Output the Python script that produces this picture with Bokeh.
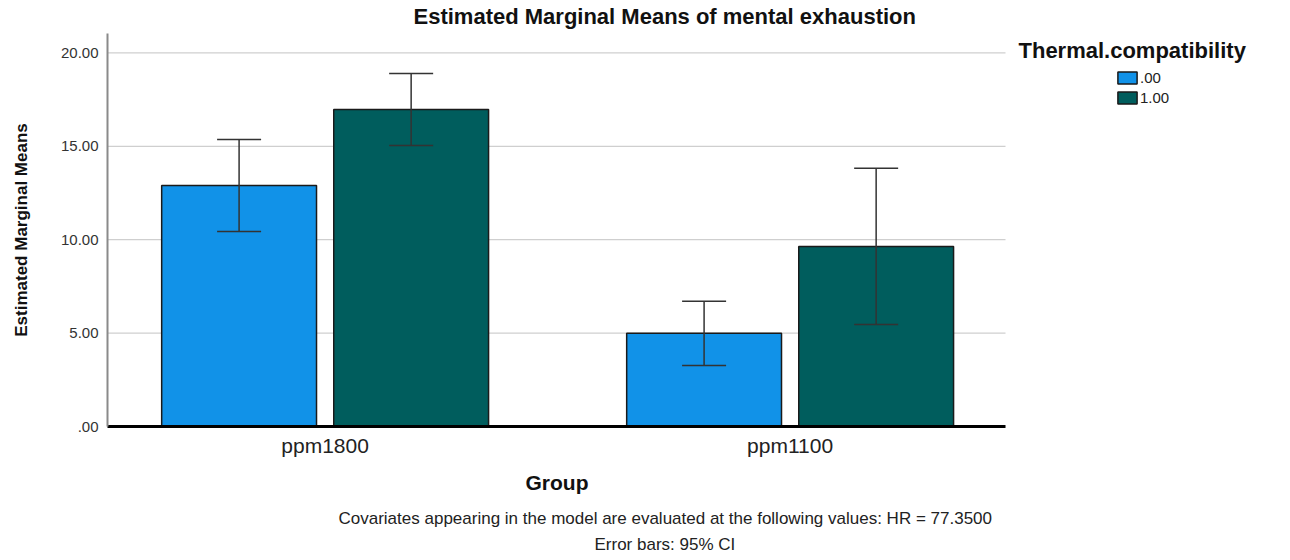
from bokeh.plotting import figure
from bokeh.models import (Range1d, FixedTicker, Whisker, TeeHead, Label, Title,
                          ColumnDataSource, Legend, LegendItem)
from bokeh.embed import file_html
from bokeh.resources import INLINE

# ---- data ----
groups = ["ppm1800", "ppm1100"]
levels = [".00", "1.00"]
means_00 = [12.90, 4.99]
lower_00 = [10.44, 3.27]
upper_00 = [15.36, 6.71]
means_100 = [16.97, 9.64]
lower_100 = [15.04, 5.46]
upper_100 = [18.90, 13.83]
y_ticks = [0, 5, 10, 15, 20]
y_tick_labels = [".00", "5.00", "10.00", "15.00", "20.00"]
colors = ["#1192e8", "#005d5d"]

title_text = "Estimated Marginal Means of mental exhaustion"
legend_title = "Thermal.compatibility"
x_title = "Group"
y_title = "Estimated Marginal Means"
footer1 = "Covariates appearing in the model are evaluated at the following values: HR = 77.3500"
footer2 = "Error bars: 95% CI"

# ---- layout (pixels) ----
W, H = 1284, 558
LEFT, TOP, BOTTOM = 107, 33, 426          # frame edges
AXIS_RIGHT = 1005                          # where the drawn chart area ends
PX_PER_GROUP = 465.0
X0 = -0.468                                # data x at the left edge
x_end = X0 + (W - LEFT) / PX_PER_GROUP
x_axis_end = X0 + (AXIS_RIGHT - LEFT) / PX_PER_GROUP

p = figure(width=W, height=H, output_backend="svg", toolbar_location=None,
           x_range=Range1d(X0, x_end), y_range=Range1d(0, 21.04),
           min_border_left=LEFT, min_border_right=0, min_border_top=TOP,
           min_border_bottom=H - BOTTOM)
p.outline_line_color = None
p.background_fill_color = "white"
p.border_fill_color = "white"

# title
p.title.text = title_text
p.title.align = "left"
p.title.offset = 306
p.title.vertical_align = "top"
p.title.standoff = 6
p.title.text_font = "Liberation Sans"
p.title.text_font_size = "22px"
p.title.text_font_style = "bold"
p.title.text_color = "#111111"

# grid lines (limited to the chart area)
p.xgrid.grid_line_color = None
p.ygrid.grid_line_color = None
p.segment(x0=[X0] * len(y_ticks), x1=[x_axis_end] * len(y_ticks), y0=y_ticks, y1=y_ticks,
          line_color="#cfcfcf", line_width=1.2, level="underlay")

offset = 0.185
bw = 0.333
series = [(means_00, lower_00, upper_00, -offset), (means_100, lower_100, upper_100, offset)]
renderers = []
for (m, lo, up, off), col in zip(series, colors):
    src = ColumnDataSource(dict(x=[i + off for i in range(len(groups))], top=m, lower=lo, upper=up))
    r = p.vbar(x="x", top="top", bottom=0, width=bw, source=src, fill_color=col,
               line_color="#1a1a1a", line_width=1.5)
    renderers.append(r)
    w = Whisker(base="x", lower="lower", upper="upper", source=src, dimension="height",
                line_color="#333333", line_width=1.5, level="annotation",
                upper_head=TeeHead(size=44, line_color="#333333", line_width=1.5),
                lower_head=TeeHead(size=44, line_color="#333333", line_width=1.5))
    p.add_layout(w)

# x axis
xa = p.xaxis[0]
xa.bounds = (X0, x_axis_end)
xa.ticker = FixedTicker(ticks=list(range(len(groups))))
xa.major_label_overrides = {i: g for i, g in enumerate(groups)}
xa.axis_line_color = "black"
xa.axis_line_width = 3
xa.major_tick_line_color = None
xa.minor_tick_line_color = None
xa.major_tick_out = 0
xa.major_tick_in = 0
xa.major_label_text_font = "Liberation Sans"
xa.major_label_text_font_size = "21px"
xa.major_label_text_color = "#222222"
xa.major_label_standoff = 7

# texts below the axis (x title and footers)
for txt, off, sto, size, style in [(x_title, 418, 22, "21px", "bold"),
                                   (footer1, 231, 4, "17px", "normal"),
                                   (footer2, 487, 6, "17px", "normal")]:
    t = Title(text=txt, align="left", offset=off, vertical_align="top", standoff=sto,
              text_font="Liberation Sans", text_font_size=size,
              text_font_style=style, text_color="#111111" if style == "bold" else "#222222")
    p.add_layout(t, "below")

# y axis
ya = p.yaxis[0]
ya.ticker = FixedTicker(ticks=y_ticks)
ya.major_label_overrides = {t: l for t, l in zip(y_ticks, y_tick_labels)}
ya.axis_line_color = "#8a8a8a"
ya.axis_line_width = 2
ya.major_tick_line_color = None
ya.minor_tick_line_color = None
ya.major_tick_out = 0
ya.major_tick_in = 0
ya.major_label_text_font = "Liberation Sans"
ya.major_label_text_font_size = "15px"
ya.major_label_text_color = "#333333"
ya.major_label_standoff = 9
ya.axis_label = y_title
ya.axis_label_text_font = "Liberation Sans"
ya.axis_label_text_font_size = "17px"
ya.axis_label_text_font_style = "bold"
ya.axis_label_text_color = "#111111"
ya.axis_label_standoff = 27

# legend
items = [LegendItem(label=lv, renderers=[r]) for lv, r in zip(levels, renderers)]
leg = Legend(items=items, location=(1008, 320), margin=0, padding=0, spacing=3,
             glyph_width=24, glyph_height=15, label_height=15, label_standoff=1,
             label_text_font="Liberation Sans", label_text_font_size="15px",
             label_text_color="#222222", border_line_color=None,
             background_fill_alpha=0)
p.add_layout(leg)
p.add_layout(Label(text=legend_title, x=911, y=376, x_units="screen", y_units="screen",
                   text_font="Liberation Sans", text_font_size="22px",
                   text_font_style="bold", text_color="#111111",
                   text_align="left", text_baseline="middle"))

open("out.html", "w").write(file_html(p, INLINE))
